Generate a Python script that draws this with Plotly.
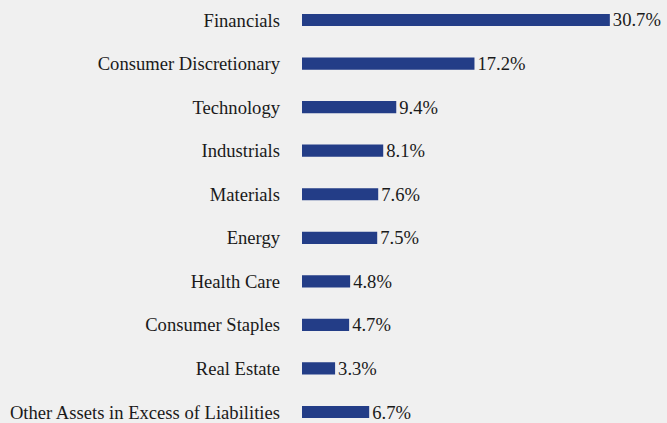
import plotly.graph_objects as go

categories = ["Financials", "Consumer Discretionary", "Technology", "Industrials", "Materials",
              "Energy", "Health Care", "Consumer Staples", "Real Estate",
              "Other Assets in Excess of Liabilities"]
values = [30.7, 17.2, 9.4, 8.1, 7.6, 7.5, 4.8, 4.7, 3.3, 6.7]
labels = [f"{v:.1f}%" for v in values]

FS = 18.6

fig = go.Figure(go.Bar(
    x=values, y=categories, orientation="h",
    marker=dict(color="#233d87", line=dict(width=0)),
    width=0.28,
    text=labels, textposition="outside", cliponaxis=False, constraintext="none",
    textfont=dict(family="Liberation Serif", size=FS, color="#1a1a1a"),
))

fig.update_layout(
    width=667, height=423,
    margin=dict(l=302, r=0, t=0, b=0),
    paper_bgcolor="#f0f0f0", plot_bgcolor="#f0f0f0",
    showlegend=False,
    font=dict(family="Liberation Serif", size=FS, color="#1a1a1a"),
    xaxis=dict(range=[0, 36.4], visible=False, fixedrange=True),
    yaxis=dict(range=[9.252, -0.459], showgrid=False, zeroline=False, showline=False,
               ticks="", ticklabelstandoff=21, tickfont=dict(size=FS), fixedrange=True),
)

fig.write_html("out.html", config={"displayModeBar": False},
               post_script="document.body.style.margin='0';")
